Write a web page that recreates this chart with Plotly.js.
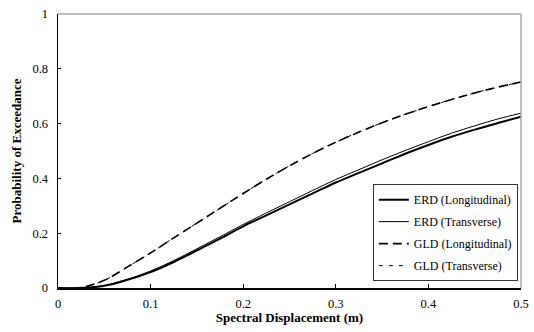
<!DOCTYPE html>
<html>
<head>
<meta charset="utf-8">
<script src="https://cdn.plot.ly/plotly-3.0.1.min.js"></script>
<style>html,body{margin:0;padding:0;background:#fff;}#chart{width:534px;height:332px;}</style>
</head>
<body>
<div id="chart"></div>
<script>
var displacement = [0, 0.025, 0.05, 0.075, 0.1, 0.125, 0.15, 0.175, 0.2, 0.225, 0.25, 0.275, 0.3, 0.325, 0.35, 0.375, 0.4, 0.425, 0.45, 0.475, 0.5];
var erdLongitudinal = [0, 0, 0.008, 0.03, 0.058, 0.095, 0.137, 0.18, 0.225, 0.265, 0.305, 0.345, 0.385, 0.42, 0.455, 0.49, 0.522, 0.552, 0.578, 0.602, 0.625];
var erdTransverse = [0, 0, 0.009, 0.032, 0.062, 0.1, 0.143, 0.187, 0.232, 0.274, 0.315, 0.356, 0.396, 0.432, 0.468, 0.502, 0.534, 0.565, 0.592, 0.617, 0.638];
var gldLongitudinal = [0, 0.002, 0.028, 0.077, 0.128, 0.183, 0.237, 0.291, 0.345, 0.397, 0.446, 0.491, 0.532, 0.569, 0.603, 0.634, 0.662, 0.688, 0.712, 0.733, 0.752];
var gldTransverse = [0, 0.002, 0.028, 0.077, 0.128, 0.183, 0.237, 0.291, 0.345, 0.397, 0.446, 0.491, 0.532, 0.569, 0.603, 0.634, 0.662, 0.688, 0.712, 0.733, 0.752];
var seriesNames = ["ERD (Longitudinal)", "ERD (Transverse)", "GLD (Longitudinal)", "GLD (Transverse)"];
var xTicks = [0, 0.1, 0.2, 0.3, 0.4, 0.5];
var xTickLabels = ["0", "0.1", "0.2", "0.3", "0.4", "0.5"];
var yTicks = [0, 0.2, 0.4, 0.6, 0.8, 1];
var yTickLabels = ["0", "0.2", "0.4", "0.6", "0.8", "1"];

var FONT = "Times New Roman, Liberation Serif, Tinos, serif";

var traces = [
  {x: displacement, y: erdLongitudinal, name: seriesNames[0], legendgroup: "g1", legendrank: 1, line: {color: "#000", width: 2, shape: "spline"}},
  {x: displacement, y: erdTransverse, name: seriesNames[1], legendgroup: "g2", legendrank: 2, line: {color: "#000", width: 1, shape: "spline"}},
  {x: displacement, y: gldTransverse, name: seriesNames[3], legendgroup: "g4", legendrank: 4, line: {color: "#000", width: 1, dash: "4px,6px", shape: "spline"}},
  {x: displacement, y: gldLongitudinal, name: seriesNames[2], legendgroup: "g3", legendrank: 3, line: {color: "#000", width: 1.6, dash: "9px,5px", shape: "spline"}}
].map(function(t){ t.type = "scatter"; t.mode = "lines"; return t; });

var layout = {
  width: 534, height: 332,
  margin: {l: 58, r: 13, t: 14, b: 44},
  paper_bgcolor: "#fff", plot_bgcolor: "#fff",
  font: {family: FONT, size: 12, color: "#000"},
  showlegend: true,
  legend: {
    x: 0.68, y: 0.025, xanchor: "left", yanchor: "bottom",
    bordercolor: "#333", borderwidth: 1, bgcolor: "#fff",
    font: {family: FONT, size: 12, color: "#000"},
    tracegroupgap: 3, traceorder: "grouped", itemwidth: 30
  },
  xaxis: {
    range: [0, 0.5], tickvals: xTicks, ticktext: xTickLabels,
    ticks: "inside", ticklen: 4, tickcolor: "#000", tickwidth: 1,
    showline: true, linecolor: "#000", linewidth: 1.5,
    showgrid: false, zeroline: false, ticklabelstandoff: 3,
    tickfont: {family: FONT, size: 12.5},
    title: {text: "<b>Spectral Displacement (m)</b>", font: {family: FONT, size: 13}, standoff: 3}
  },
  yaxis: {
    range: [0, 1], tickvals: yTicks, ticktext: yTickLabels,
    ticks: "inside", ticklen: 3, tickcolor: "#000", tickwidth: 1,
    showline: true, linecolor: "#000", linewidth: 1.5,
    showgrid: false, zeroline: false, ticklabelstandoff: 6,
    tickfont: {family: FONT, size: 12.5},
    title: {text: "<b>Probability of Exceedance</b>", font: {family: FONT, size: 13}, standoff: 8}
  },
  shapes: [
    {type: "line", xref: "paper", yref: "paper", x0: 0, x1: 1, y0: 1, y1: 1, line: {color: "#aaa", width: 1.5}},
    {type: "line", xref: "paper", yref: "paper", x0: 1, x1: 1, y0: 0, y1: 1, line: {color: "#aaa", width: 1.5}}
  ]
};

Plotly.newPlot("chart", traces, layout, {displayModeBar: false, staticPlot: true});
</script>
</body>
</html>
